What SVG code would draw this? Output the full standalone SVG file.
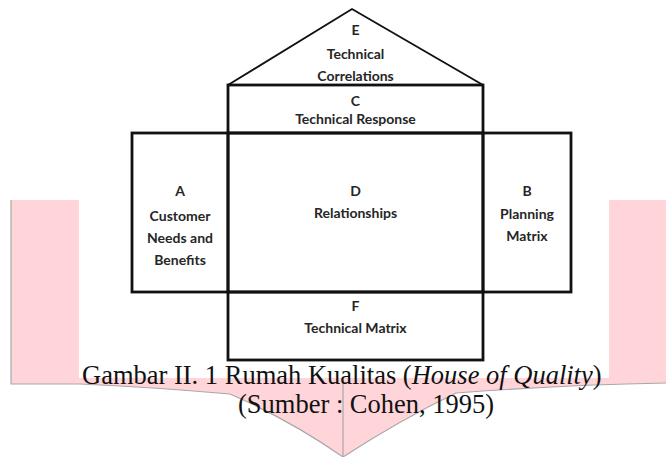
<svg xmlns="http://www.w3.org/2000/svg" width="666" height="457" viewBox="0 0 666 457">
<style>
.box{fill:none;stroke:#111;stroke-width:2.8}
.roof{fill:none;stroke:#111;stroke-width:1.9;stroke-linejoin:miter}
.lbl{font-family:Lato,"Liberation Sans",Arial,sans-serif;font-size:14px;font-weight:bold;fill:#262626;text-anchor:middle}
.cap{font-family:"Liberation Serif","Times New Roman",serif;font-size:26.5px;fill:#111}
.wm{fill:#ffd5da;stroke:none}
.wmline{fill:none;stroke:#a8a8a8;stroke-width:1.2}
</style>
<rect width="666" height="457" fill="#fff"/>
<g id="watermark">
<path class="wm" d="M11,200 H79 V378 H609 V200 H666 V383 Q560,385 456,393 Q400,420 343,457 Q290,420 230,394 Q150,387 80,384 H11 Z"/>
<path class="wmline" d="M11,200 V384 H80 Q150,387 230,394 Q290,420 343,457 Q400,420 456,393 Q560,385 666,383"/>
<line class="wmline" x1="343" y1="380" x2="343" y2="457"/>
<rect x="79" y="0" width="530" height="378" fill="#fff"/>
</g>
<g id="E">
<polyline class="roof" points="228,85 352,9 483,85"/>
<text class="lbl" x="355.5" y="35">E</text>
<text class="lbl" x="355.5" y="59">Technical</text>
<text class="lbl" x="355.5" y="81">Correlations</text>
</g>
<g id="C">
<rect class="box" x="228" y="85" width="255" height="48"/>
<text class="lbl" x="355.5" y="106">C</text>
<text class="lbl" x="355.5" y="124">Technical Response</text>
</g>
<g id="A">
<rect class="box" x="132" y="133" width="96" height="159"/>
<text class="lbl" x="180" y="196">A</text>
<text class="lbl" x="180" y="221">Customer</text>
<text class="lbl" x="180" y="243">Needs and</text>
<text class="lbl" x="180" y="265">Benefits</text>
</g>
<g id="D">
<rect class="box" x="228" y="133" width="255" height="159"/>
<text class="lbl" x="355.5" y="196">D</text>
<text class="lbl" x="355.5" y="218">Relationships</text>
</g>
<g id="B">
<rect class="box" x="483" y="133" width="88" height="159"/>
<text class="lbl" x="527" y="196">B</text>
<text class="lbl" x="527" y="219">Planning</text>
<text class="lbl" x="527" y="241">Matrix</text>
</g>
<g id="F">
<rect class="box" x="228" y="292" width="255" height="68"/>
<text class="lbl" x="355.5" y="311">F</text>
<text class="lbl" x="355.5" y="333">Technical Matrix</text>
</g>
<g id="connectors"></g>
<g id="caption">
<text class="cap" x="82" y="384">Gambar II. 1 Rumah Kualitas (<tspan font-style="italic">House of Quality</tspan>)</text>
<text class="cap" x="238" y="413">(Sumber : Cohen, 1995)</text>
</g>
</svg>
